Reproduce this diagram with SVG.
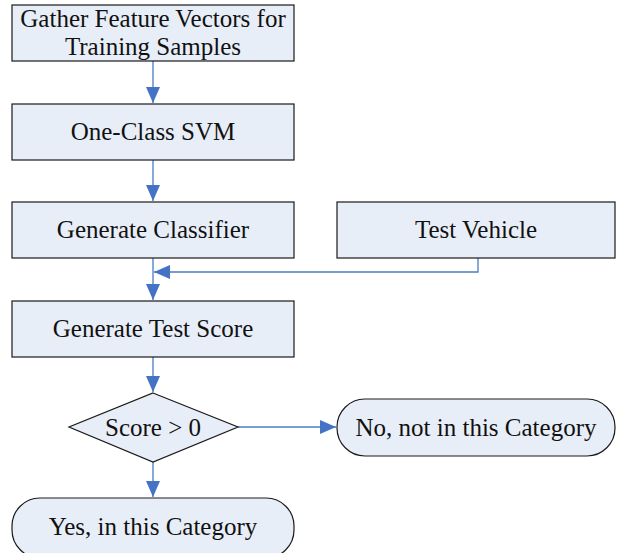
<svg xmlns="http://www.w3.org/2000/svg" width="618" height="553" viewBox="0 0 618 553">
  <defs>
    <marker id="arrow" viewBox="0 0 16 14" refX="16" refY="7" markerWidth="16" markerHeight="14" markerUnits="userSpaceOnUse" orient="auto">
      <path d="M0,0 L16,7 L0,14 Z" fill="#4472C4"/>
    </marker>
    <style>
      .shape { fill: #E8EEF8; stroke: #1a1a1a; stroke-width: 1.2; }
      .label { font-family: "Liberation Serif", "Times New Roman", serif; font-size: 25px; fill: #111; text-anchor: middle; }
      .link { fill: none; stroke: #4A7CC4; stroke-width: 1.3; }
    </style>
  </defs>
  <rect width="618" height="553" fill="#ffffff"/>

  <g id="connectors">
    <line class="link" x1="153" y1="61" x2="153" y2="103" marker-end="url(#arrow)"/>
    <line class="link" x1="153" y1="160" x2="153" y2="201" marker-end="url(#arrow)"/>
    <line class="link" x1="153" y1="258" x2="153" y2="300" marker-end="url(#arrow)"/>
    <polyline class="link" points="478,258 478,272 154,272" marker-end="url(#arrow)"/>
    <line class="link" x1="153" y1="357" x2="153" y2="392" marker-end="url(#arrow)"/>
    <line class="link" x1="238" y1="427" x2="336" y2="427" marker-end="url(#arrow)"/>
    <line class="link" x1="153" y1="462" x2="153" y2="497" marker-end="url(#arrow)"/>
  </g>

  <g id="gather">
    <rect class="shape" x="12" y="5" width="282" height="56"/>
    <text class="label" x="153" y="27">Gather Feature Vectors for</text>
    <text class="label" x="153" y="55">Training Samples</text>
  </g>

  <g id="svm">
    <rect class="shape" x="12" y="104" width="282" height="56"/>
    <text class="label" x="153" y="140">One-Class SVM</text>
  </g>

  <g id="classifier">
    <rect class="shape" x="12" y="202" width="282" height="56"/>
    <text class="label" x="153" y="238">Generate Classifier</text>
  </g>

  <g id="vehicle">
    <rect class="shape" x="337" y="202" width="278" height="56"/>
    <text class="label" x="476" y="238">Test Vehicle</text>
  </g>

  <g id="score">
    <rect class="shape" x="12" y="301" width="282" height="56"/>
    <text class="label" x="153" y="337">Generate Test Score</text>
  </g>

  <g id="decision">
    <polygon class="shape" points="153,393 238,427 153,462 69,427"/>
    <text class="label" x="153" y="436">Score &gt; 0</text>
  </g>

  <g id="no">
    <rect class="shape" x="337" y="399" width="278" height="57" rx="28" ry="28"/>
    <text class="label" x="476" y="436">No, not in this Category</text>
  </g>

  <g id="yes">
    <rect class="shape" x="12" y="498" width="282" height="60" rx="28" ry="28"/>
    <text class="label" x="153" y="535">Yes, in this Category</text>
  </g>
</svg>
